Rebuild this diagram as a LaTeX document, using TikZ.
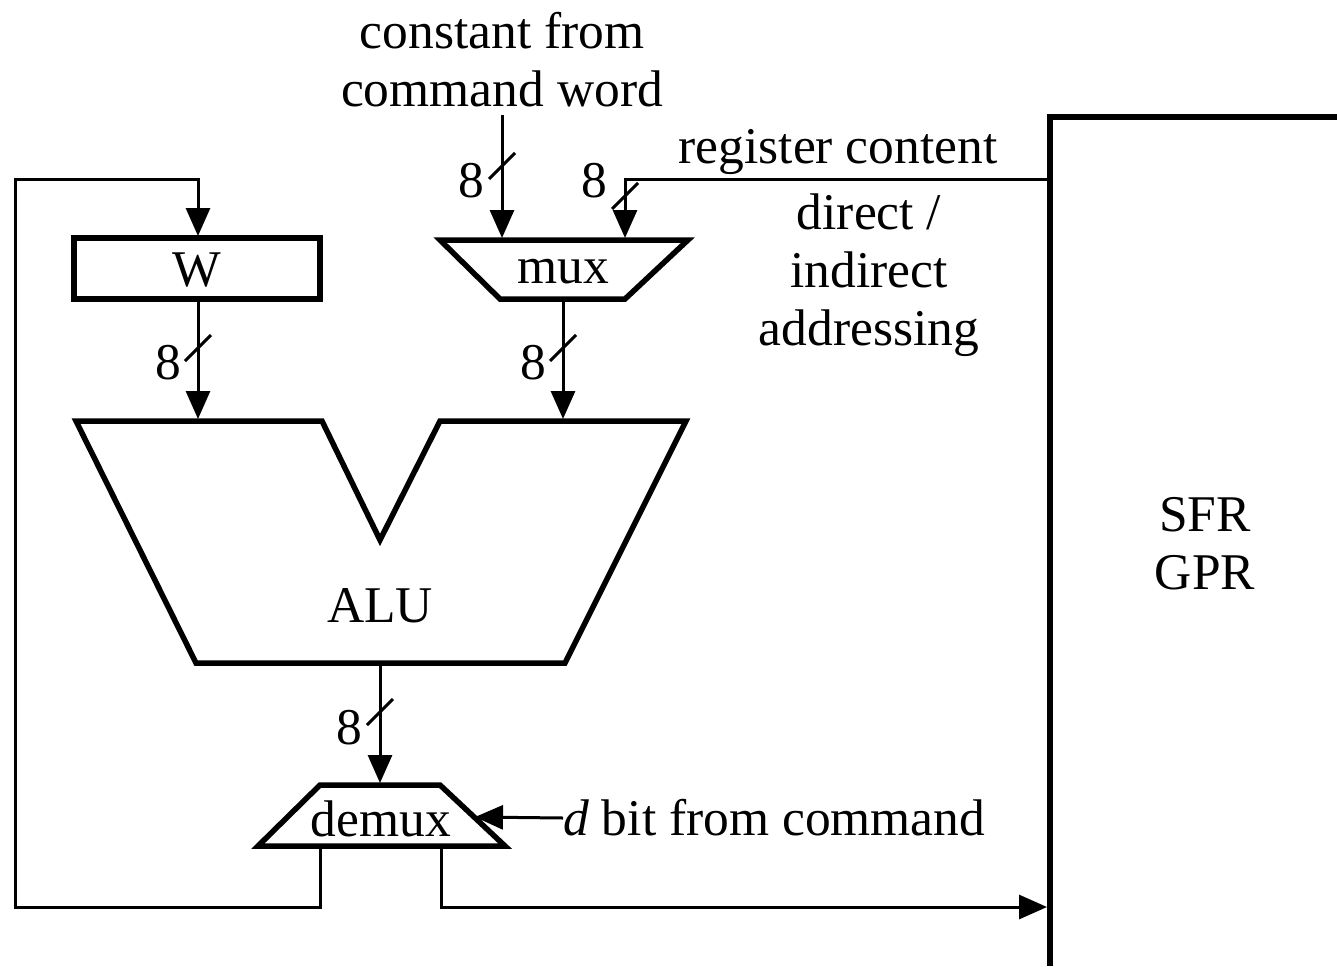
\documentclass[tikz,border=0pt]{standalone}
\usepackage{fontspec}
\setmainfont{Liberation Serif}
\usetikzlibrary{arrows.meta}
\begin{document}
\begin{tikzpicture}[x=1pt,y=-1pt,
  wire/.style={line width=3pt},
  boxline/.style={line width=5.5pt,line join=miter},
  arr/.style={wire,-{Triangle[length=28pt,width=24pt]}},
  txt/.style={font=\fontsize{51.5}{58}\selectfont,inner sep=0pt},
  bus/.style={wire}]
\useasboundingbox (0,0) rectangle (1337,966);

% SFR/GPR register file
\draw[line width=6pt,line join=miter] (1337,117) -- (1050,117) -- (1050,966);
\node[txt,align=center] (sfr) at (1205,544) {SFR\\GPR};
\coordinate (sfrIn) at (1047,907);
\coordinate (sfrOut) at (1047,179);

% W register
\draw[boxline] (74,238) rectangle (320,299);
\node[txt] (W) at (197,270) {W};
\coordinate (Wtop) at (198,236);
\coordinate (Wbot) at (198,301);

% mux
\draw[boxline] (440,240) -- (688,240) -- (625,299) -- (500,299) -- cycle;
\node[txt] (mux) at (563,272) {mux};
\coordinate (muxA) at (502,238);
\coordinate (muxB) at (625,238);
\coordinate (muxOut) at (563,301);

% ALU
\draw[boxline] (76,421) -- (322,421) -- (380,540) -- (440,421) -- (686,421) -- (565,663) -- (196,663) -- cycle;
\node[txt] (alu) at (380,606) {ALU};
\coordinate (aluA) at (198,419);
\coordinate (aluB) at (563,419);
\coordinate (aluOut) at (380,665);

% demux
\draw[boxline] (320,785) -- (440,785) -- (505,846) -- (258,846) -- cycle;
\node[txt] (demux) at (381,819) {demux};
\coordinate (dmIn) at (380,783);
\coordinate (dmD) at (475,817);
\coordinate (dmL) at (320,848);
\coordinate (dmR) at (441,848);

% texts
\node[txt,align=center] (const) at (502,60) {constant from\\command word};
\coordinate (constEnd) at (502,115);
\node[txt] (reg) at (838,152) {register content};
\node[txt,align=center] (addr) at (869,275) {direct /\\indirect\\addressing};
\node[txt,anchor=west] (dbit) at (563,818) {\textit{d} bit from command};

% corners
\coordinate (c1) at (320,907);
\coordinate (c2) at (15,907);
\coordinate (c3) at (15,179);
\coordinate (c4) at (198,179);
\coordinate (c5) at (441,907);
\coordinate (c6) at (625,179);

% connectors
\draw[arr] (constEnd) -- (muxA);
\draw[arr] (sfrOut) -- (c6) -- (muxB);
\draw[arr] (Wbot) -- (aluA);
\draw[arr] (muxOut) -- (aluB);
\draw[arr] (aluOut) -- (dmIn);
\draw[arr] (dbit.west) -- (dmD);
\draw[arr] (dmL) -- (c1) -- (c2) -- (c3) -- (c4) -- (Wtop);
\draw[arr] (dmR) -- (c5) -- (sfrIn);

% bus width slashes
\coordinate (s1) at (502,166);
\coordinate (s2) at (625,196);
\coordinate (s3) at (198,348);
\coordinate (s4) at (563,348);
\coordinate (s5) at (380,712);
\foreach \s in {s1,s2,s3,s4,s5}
  \draw[wire] (\s) ++(-13,13) -- ++(26,-26);
\node[txt] (n1) at (471,181) {8};
\node[txt] (n2) at (594,181) {8};
\node[txt] (n3) at (168,363) {8};
\node[txt] (n4) at (533,363) {8};
\node[txt] (n5) at (349,728) {8};
\end{tikzpicture}
\end{document}
